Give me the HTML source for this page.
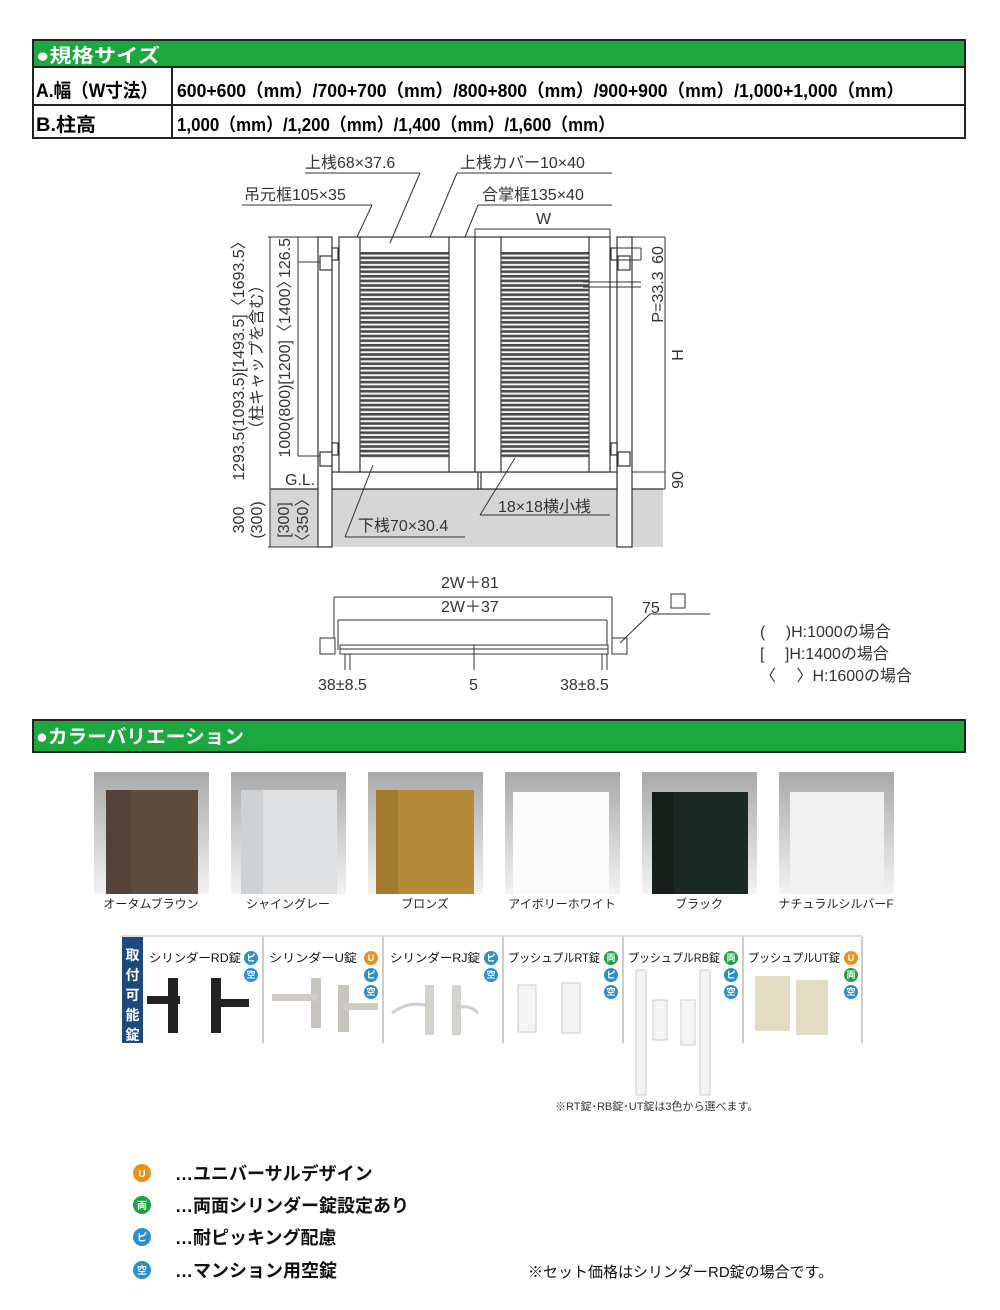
<!DOCTYPE html>
<html><head><meta charset="utf-8">
<style>
html,body{margin:0;padding:0;background:#fff;}
svg{display:block;}
text{font-family:"Liberation Sans","Noto Sans CJK JP",sans-serif;}
.b{font-weight:bold;}
</style></head>
<body>
<svg width="1000" height="1310" viewBox="0 0 1000 1310" xmlns="http://www.w3.org/2000/svg">
<defs>
<pattern id="slat" x="0" y="252" width="10" height="4.6" patternUnits="userSpaceOnUse">
<rect width="10" height="4.6" fill="#f4f4f4"/>
<rect y="0" width="10" height="2.6" fill="#4a4a4a"/>
</pattern>
<linearGradient id="bg" x1="0" y1="0" x2="0" y2="1">
<stop offset="0" stop-color="#a9a9a9"/><stop offset="1" stop-color="#f3f3f3"/>
</linearGradient>
</defs>

<rect x="33" y="40" width="932" height="98" fill="#fff" stroke="#222" stroke-width="2"/>
<rect x="34" y="41" width="930" height="26" fill="#1da83f"/>
<line x1="33" y1="67" x2="965" y2="67" stroke="#222" stroke-width="2"/>
<line x1="33" y1="105" x2="965" y2="105" stroke="#222" stroke-width="2"/>
<line x1="172" y1="67" x2="172" y2="138" stroke="#222" stroke-width="2"/>
<text x="36" y="62" class="b" font-size="19" fill="#fff" textLength="124" lengthAdjust="spacingAndGlyphs">●規格サイズ</text>
<text x="36" y="97" class="b" font-size="19" textLength="122" lengthAdjust="spacingAndGlyphs">A.幅（W寸法）</text>
<text x="177" y="97" class="b" font-size="18" textLength="727" lengthAdjust="spacingAndGlyphs">600+600（mm）/700+700（mm）/800+800（mm）/900+900（mm）/1,000+1,000（mm）</text>
<text x="36" y="131" class="b" font-size="19" textLength="60" lengthAdjust="spacingAndGlyphs">B.柱高</text>
<text x="177" y="131" class="b" font-size="18" textLength="438" lengthAdjust="spacingAndGlyphs">1,000（mm）/1,200（mm）/1,400（mm）/1,600（mm）</text>

<g stroke="#333" stroke-width="1.2" fill="none">
<rect x="270" y="489" width="393" height="58" fill="#d6d6d6" stroke="none"/>
<line x1="270" y1="489" x2="663" y2="489"/>
<rect x="318" y="237" width="14" height="310" fill="#fff"/>
<rect x="617" y="237" width="15" height="310" fill="#fff"/>
<rect x="332" y="472" width="285" height="17" fill="#fff"/>
<line x1="478" y1="472" x2="478" y2="489"/>
<line x1="481" y1="472" x2="481" y2="489"/>
<rect x="339" y="237" width="136" height="235" fill="#fff"/>
<rect x="475" y="237" width="135" height="235" fill="#fff"/>
<line x1="360" y1="237" x2="360" y2="472"/>
<line x1="449" y1="237" x2="449" y2="472"/>
<line x1="501" y1="237" x2="501" y2="472"/>
<line x1="589" y1="237" x2="589" y2="472"/>
</g>
<rect x="360.6" y="252" width="88" height="206" fill="url(#slat)"/>
<rect x="501.6" y="252" width="87" height="206" fill="url(#slat)"/>
<g stroke="#333" stroke-width="1.2" fill="#fff">
<rect x="320" y="256" width="12" height="14"/><rect x="332" y="248" width="6" height="12"/>
<rect x="320" y="452" width="12" height="14"/><rect x="332" y="443" width="6" height="12"/>
<rect x="618" y="256" width="12" height="14"/><rect x="611" y="248" width="6" height="12"/>
<rect x="618" y="452" width="12" height="14"/><rect x="611" y="443" width="6" height="12"/>
</g>
<g stroke="#333" stroke-width="1" fill="none">
<line x1="270" y1="237" x2="270" y2="547"/>
<line x1="268" y1="237" x2="318" y2="237"/>
<line x1="268" y1="547" x2="318" y2="547"/>
<line x1="298" y1="237" x2="298" y2="456"/>
<line x1="298" y1="262" x2="320" y2="262"/>
<line x1="298" y1="456" x2="320" y2="456"/>
<line x1="475" y1="229" x2="610" y2="229"/>
<line x1="475" y1="229" x2="475" y2="237"/><line x1="610" y1="229" x2="610" y2="237"/>
<line x1="632" y1="237" x2="665" y2="237"/>
<line x1="665" y1="237" x2="665" y2="489"/>
<line x1="632" y1="489" x2="665" y2="489"/>
<line x1="632" y1="472" x2="665" y2="472"/>
<line x1="611" y1="248" x2="641" y2="248"/><line x1="611" y1="260" x2="641" y2="260"/>
<line x1="641" y1="248" x2="641" y2="260"/>
<line x1="583" y1="282" x2="641" y2="282"/><line x1="583" y1="287" x2="641" y2="287"/>
<polyline points="372,205 242,205"/><line x1="372" y1="205" x2="357" y2="237"/>
<polyline points="420,173 305,173"/><line x1="420" y1="173" x2="390" y2="243"/>
<polyline points="612,173 457,173"/><line x1="457" y1="173" x2="430" y2="237"/>
<polyline points="612,205 478,205"/><line x1="478" y1="205" x2="465" y2="237"/>
<polyline points="465,537 345,537"/><line x1="345" y1="537" x2="373" y2="465"/>
<polyline points="610,515 480,515"/><line x1="480" y1="515" x2="515" y2="458"/>
</g>
<g font-size="16" fill="#333">
<text x="305" y="168">上桟68×37.6</text>
<text x="460" y="168">上桟カバー10×40</text>
<text x="244" y="200">吊元框105×35</text>
<text x="482" y="200">合掌框135×40</text>
<text x="536" y="224">W</text>
<text x="285" y="485">G.L.</text>
<text x="498" y="512">18×18横小桟</text>
<text x="358" y="531">下桟70×30.4</text>
<text transform="translate(683,355) rotate(-90)" text-anchor="middle">H</text>
<text transform="translate(683,480) rotate(-90)" text-anchor="middle">90</text>
<text transform="translate(663,255) rotate(-90)" text-anchor="middle">60</text>
<text transform="translate(663,297) rotate(-90)" text-anchor="middle">P=33.3</text>
<text transform="translate(290,258) rotate(-90)" text-anchor="middle">126.5</text>
<text transform="translate(290,365) rotate(-90)" text-anchor="middle">1000(800)[1200]〈1400〉</text>
<text transform="translate(244,357) rotate(-90)" text-anchor="middle">1293.5(1093.5)[1493.5]〈1693.5〉</text>
<text transform="translate(262,357) rotate(-90)" text-anchor="middle">（柱キャップを含む）</text>
<text transform="translate(244,520) rotate(-90)" text-anchor="middle">300</text>
<text transform="translate(262,520) rotate(-90)" text-anchor="middle">(300)</text>
<text transform="translate(289,520) rotate(-90)" text-anchor="middle">[300]</text>
<text transform="translate(308,520) rotate(-90)" text-anchor="middle">〈350〉</text>
</g>

<g stroke="#333" stroke-width="1" fill="none">
<line x1="334" y1="597" x2="612" y2="597"/>
<line x1="334" y1="597" x2="334" y2="650"/><line x1="612" y1="597" x2="612" y2="650"/>
<line x1="338" y1="620" x2="607" y2="620"/>
<line x1="338" y1="620" x2="338" y2="650"/><line x1="607" y1="620" x2="607" y2="650"/>
<rect x="320" y="638" width="15" height="16" fill="#fff"/>
<rect x="612" y="638" width="15" height="16" fill="#fff"/>
<rect x="340" y="645" width="268" height="4" fill="#fff"/>
<rect x="340" y="649" width="268" height="5" fill="#fff"/>
<line x1="474" y1="645" x2="474" y2="670"/>
<line x1="350" y1="654" x2="350" y2="670"/><line x1="345" y1="654" x2="345" y2="670"/>
<line x1="602" y1="654" x2="602" y2="670"/><line x1="607" y1="654" x2="607" y2="670"/>
<polyline points="620,643 650,614 710,614"/>
<rect x="671" y="594" width="14" height="14"/>
</g>
<g font-size="16" fill="#333">
<text x="441" y="588">2W＋81</text>
<text x="441" y="612">2W＋37</text>
<text x="642" y="613">75</text>
<text x="318" y="690">38±8.5</text>
<text x="469" y="690">5</text>
<text x="560" y="690">38±8.5</text>
<text x="760" y="637">(　 )H:1000の場合</text>
<text x="760" y="659">[　 ]H:1400の場合</text>
<text x="760" y="681">〈　 〉H:1600の場合</text>
</g>

<rect x="33" y="720" width="932" height="32" fill="#1da83f" stroke="#222" stroke-width="2"/>
<text x="36" y="743" class="b" font-size="19" fill="#fff" textLength="208" lengthAdjust="spacingAndGlyphs">●カラーバリエーション</text>

<g>
<rect x="94" y="772" width="115" height="122" fill="url(#bg)"/>
<rect x="106" y="790" width="92" height="104" fill="#5e4c3f"/><rect x="106" y="790" width="25" height="104" fill="#52423a"/>
<rect x="231" y="772" width="115" height="122" fill="url(#bg)"/>
<rect x="241" y="790" width="96" height="104" fill="#dfe1e3"/><rect x="241" y="790" width="22" height="104" fill="#cfd2d4"/>
<rect x="368" y="772" width="115" height="122" fill="url(#bg)"/>
<rect x="376" y="790" width="98" height="104" fill="#b58a3a"/><rect x="376" y="790" width="22" height="104" fill="#a27a30"/>
<rect x="505" y="772" width="115" height="122" fill="url(#bg)"/>
<rect x="513" y="792" width="96" height="102" fill="#fbfbfb"/>
<rect x="642" y="772" width="115" height="122" fill="url(#bg)"/>
<rect x="652" y="792" width="96" height="102" fill="#1b2a25"/><rect x="652" y="792" width="22" height="102" fill="#142019"/>
<rect x="779" y="772" width="115" height="122" fill="url(#bg)"/>
<rect x="790" y="792" width="94" height="102" fill="#f1f1f1"/>
</g>
<g font-size="12" fill="#222" text-anchor="middle">
<text x="151" y="908">オータムブラウン</text>
<text x="288" y="908">シャイングレー</text>
<text x="425" y="908">ブロンズ</text>
<text x="562" y="908">アイボリーホワイト</text>
<text x="699" y="908">ブラック</text>
<text x="836" y="908">ナチュラルシルバーF</text>
</g>

<line x1="122" y1="936" x2="862" y2="936" stroke="#bbb"/>
<rect x="122" y="937" width="21" height="106" fill="#1d4a7e"/>
<g font-size="14" class="b" fill="#fff" text-anchor="middle">
<text x="132.5" y="960">取</text><text x="132.5" y="980">付</text><text x="132.5" y="1000">可</text><text x="132.5" y="1020">能</text><text x="132.5" y="1040">錠</text>
</g>
<g stroke="#999" stroke-width="1">
<line x1="263" y1="937" x2="263" y2="1043"/><line x1="383" y1="937" x2="383" y2="1043"/>
<line x1="503" y1="937" x2="503" y2="1043"/><line x1="623" y1="937" x2="623" y2="1043"/>
<line x1="743" y1="937" x2="743" y2="1043"/><line x1="862" y1="937" x2="862" y2="1043"/>
</g>
<g font-size="12" fill="#111">
<text x="149" y="962" textLength="92" lengthAdjust="spacingAndGlyphs">シリンダーRD錠</text>
<text x="269" y="962" textLength="88" lengthAdjust="spacingAndGlyphs">シリンダーU錠</text>
<text x="390" y="962" textLength="90" lengthAdjust="spacingAndGlyphs">シリンダーRJ錠</text>
<text x="508" y="962" textLength="92" lengthAdjust="spacingAndGlyphs">プッシュプルRT錠</text>
<text x="628" y="962" textLength="92" lengthAdjust="spacingAndGlyphs">プッシュプルRB錠</text>
<text x="748" y="962" textLength="92" lengthAdjust="spacingAndGlyphs">プッシュプルUT錠</text>
</g>
<g font-size="9" fill="#fff" text-anchor="middle" class="b">
<circle cx="251" cy="958" r="7" fill="#2a8fd0"/><text x="251" y="961">ピ</text>
<circle cx="251" cy="975" r="7" fill="#2a8fd0"/><text x="251" y="978">空</text>
<circle cx="371" cy="958" r="7" fill="#e8921e"/><text x="371" y="961">U</text>
<circle cx="371" cy="975" r="7" fill="#2a8fd0"/><text x="371" y="978">ピ</text>
<circle cx="371" cy="992" r="7" fill="#2a8fd0"/><text x="371" y="995">空</text>
<circle cx="491" cy="958" r="7" fill="#2a8fd0"/><text x="491" y="961">ピ</text>
<circle cx="491" cy="975" r="7" fill="#2a8fd0"/><text x="491" y="978">空</text>
<circle cx="611" cy="958" r="7" fill="#20a040"/><text x="611" y="961">両</text>
<circle cx="611" cy="975" r="7" fill="#2a8fd0"/><text x="611" y="978">ピ</text>
<circle cx="611" cy="992" r="7" fill="#2a8fd0"/><text x="611" y="995">空</text>
<circle cx="731" cy="958" r="7" fill="#20a040"/><text x="731" y="961">両</text>
<circle cx="731" cy="975" r="7" fill="#2a8fd0"/><text x="731" y="978">ピ</text>
<circle cx="731" cy="992" r="7" fill="#2a8fd0"/><text x="731" y="995">空</text>
<circle cx="851" cy="958" r="7" fill="#e8921e"/><text x="851" y="961">U</text>
<circle cx="851" cy="975" r="7" fill="#20a040"/><text x="851" y="978">両</text>
<circle cx="851" cy="992" r="7" fill="#2a8fd0"/><text x="851" y="995">空</text>
</g>
<g>
<rect x="168" y="978" width="10" height="55" fill="#222"/><rect x="147" y="996" width="33" height="8" fill="#222"/>
<rect x="211" y="978" width="10" height="55" fill="#222"/><rect x="211" y="999" width="38" height="8" fill="#222"/>
<rect x="311" y="978" width="10" height="50" fill="#c8c5bf"/><rect x="272" y="994" width="45" height="7" fill="#cfccc6"/>
<rect x="338" y="985" width="11" height="47" fill="#c8c5bf"/><rect x="343" y="1003" width="35" height="7" fill="#cfccc6"/>
<rect x="425" y="985" width="9" height="50" fill="#d4d2cc"/><path d="M392,1013 Q410,1000 428,1006" stroke="#d0cec8" stroke-width="3" fill="none"/>
<rect x="452" y="985" width="9" height="50" fill="#d4d2cc"/><path d="M455,1008 Q470,1004 478,1013" stroke="#d0cec8" stroke-width="3" fill="none"/>
<rect x="518" y="985" width="18" height="47" fill="#f4f4f4" stroke="#ccc"/>
<rect x="562" y="983" width="18" height="50" fill="#f4f4f4" stroke="#ccc"/>
<rect x="636" y="970" width="10" height="125" fill="#f4f4f4" stroke="#ccc"/>
<rect x="653" y="1000" width="14" height="40" fill="#f4f4f4" stroke="#ccc"/>
<rect x="681" y="1000" width="14" height="45" fill="#f4f4f4" stroke="#ccc"/>
<rect x="700" y="970" width="10" height="125" fill="#f4f4f4" stroke="#ccc"/>
<rect x="755" y="976" width="35" height="55" fill="#e3dcc5"/>
<rect x="796" y="980" width="32" height="55" fill="#e3dcc5"/>
</g>
<text x="555" y="1110" font-size="11" fill="#333">※RT錠･RB錠･UT錠は3色から選べます。</text>

<g font-size="10" fill="#fff" text-anchor="middle" class="b">
<circle cx="142" cy="1173" r="9" fill="#e8921e"/><text x="142" y="1177">U</text>
<circle cx="142" cy="1205" r="9" fill="#20a040"/><text x="142" y="1209">両</text>
<circle cx="142" cy="1237" r="9" fill="#2a8fd0"/><text x="142" y="1241">ピ</text>
<circle cx="142" cy="1270" r="9" fill="#2a8fd0"/><text x="142" y="1274">空</text>
</g>
<g font-size="18" class="b" fill="#111">
<text x="175" y="1180">…ユニバーサルデザイン</text>
<text x="175" y="1212">…両面シリンダー錠設定あり</text>
<text x="175" y="1244">…耐ピッキング配慮</text>
<text x="175" y="1277">…マンション用空錠</text>
</g>
<text x="528" y="1277" font-size="15" fill="#111">※セット価格はシリンダーRD錠の場合です。</text>
</svg>
</body></html>
